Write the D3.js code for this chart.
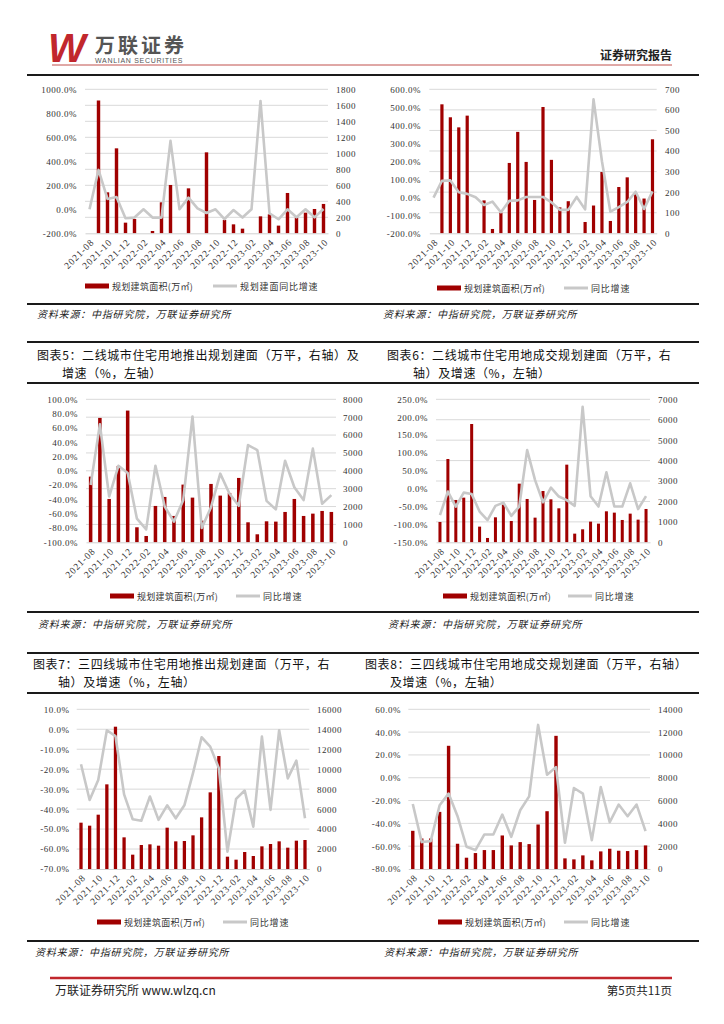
<!DOCTYPE html>
<html>
<head>
<meta charset="utf-8">
<script src="https://cdn.jsdelivr.net/npm/d3@7"></script>
<style>
  body { margin: 0; background: #fff; }
  svg { display: block; }
</style>
</head>
<body>
<svg id="page" width="724" height="1024"></svg>
<script>
// months shown on every chart
const months = ['2021-08','2021-09','2021-10','2021-11','2021-12','2022-01','2022-02','2022-03','2022-04',
  '2022-05','2022-06','2022-07','2022-08','2022-09','2022-10','2022-11','2022-12','2023-01','2023-02',
  '2023-03','2023-04','2023-05','2023-06','2023-07','2023-08','2023-09','2023-10']

// chart 1 (top left): planned floor area (万㎡) and yoy (%)
const area1 = [0, 1660, 512, 1062, 133, 179, 0, 29, 387, 604, 0, 562, 0, 1012, 0, 167, 112, 58, 0, 212, 237, 96, 504, 196, 258, 304, 367]
const yoy1 = [0, 328, 86, 103, -75, -69, 0, -69, -69, 570, 0, 97, 8, -31, 0, -81, -6, -69, 0, 903, -33, -83, 0, -67, 0, -67, 2]

// chart 2 (top right)
const area2 = [0, 627, 564, 515, 572, 0, 160, 21, 100, 342, 493, 347, 162, 614, 357, 126, 156, 0, 55, 135, 298, 60, 225, 272, 190, 169, 457]
const yoy2 = [-2, 91, 94, 28, 19, 0, -43, -24, -83, -20, -17, 2, 2, 2, -28, -70, -70, 2, -67, 544, 200, -80, -54, -26, 31, -65, 33]

// chart 3: 图表5
const area3 = [3675, 6959, 2425, 4272, 7369, 840, 354, 2034, 2537, 1474, 3228, 2500, 1213, 3265, 2612, 2761, 3601, 1119, 448, 1175, 1157, 1698, 2425, 1474, 1604, 1754, 1698]
const yoy3 = [-19.8, 65, -36, 7, -3, -67, -82, 7, -50, -71, -41, 76, -80, -51, -4, -32, -49, 36, 29, -42, -54, 14, -23, -41, 31, -46, -34]

// chart 4: 图表6
const area4 = [995, 4078, 2072, 2186, 5791, 767, 212, 1223, 1843, 1044, 2871, 2121, 1207, 2512, 2104, 1664, 3801, 424, 636, 1011, 913, 1517, 1452, 1093, 1403, 1109, 1631]
const yoy4 = [-74, -8, -50, -11, -15, -64, -88, -48, -39, -76, -50, 108, 24, -38, 3, -22, -32, -48, 229, -21, -50, 46, -50, -50, 15, -57, -21]

// chart 5: 图表7
const area5 = [4641, 4341, 5442, 8481, 14257, 3172, 1436, 2404, 2471, 2337, 4140, 2771, 2805, 3372, 5175, 7679, 11319, 1235, 935, 1703, 1302, 2270, 2504, 2771, 2137, 2838, 2905]
const yoy5 = [-17.5, -35.4, -25.4, -0.5, -3.4, -32.6, -45.1, -45.8, -33.7, -45.4, -38.1, -44.6, -38.1, -22.0, -4.0, -8.7, -19.5, -61.3, -34.9, -30.7, -48.8, -3.7, -40.4, -0.5, -24.6, -15.7, -44.6]

// chart 6: 图表8
const area6 = [3348, 2678, 2678, 5007, 10801, 2213, 990, 1397, 1659, 1659, 2940, 2067, 2358, 2183, 3901, 5066, 11674, 932, 844, 1194, 757, 1543, 1776, 1601, 1572, 1659, 2067]
const yoy6 = [-23, -56.4, -55.6, -24.1, -13.9, -33.7, -60.5, -63.4, -49.7, -49.7, -32.3, -51.8, -28.5, -16.3, 46.3, 2.6, 9.3, -57, -9, -13.9, -54.7, -8.1, -39, -23.5, -33.7, -23.5, -46.8]

// axis ranges [min, max, step]
const leftAxes = [[-200, 1000, 200], [-200, 600, 100], [-100, 100, 20], [-150, 250, 50], [-70, 10, 10], [-80, 60, 20]]
const rightAxes = [[0, 1800, 200], [0, 700, 100], [0, 8000, 1000], [0, 7000, 1000], [0, 16000, 2000], [0, 14000, 2000]]

const barLabel = '规划建筑面积(万㎡)'
const lineLabels = ['规划建面同比增速', '同比增速', '同比增速', '同比增速', '同比增速', '同比增速']
const sourceText = '资料来源：中指研究院，万联证券研究所'

const titles = [
  null, null,
  ['图表5：二线城市住宅用地推出规划建面（万平，右轴）及', '增速（%，左轴）'],
  ['图表6：二线城市住宅用地成交规划建面（万平，右', '轴）及增速（%，左轴）'],
  ['图表7：三四线城市住宅用地推出规划建面（万平，右', '轴）及增速（%，左轴）'],
  ['图表8：三四线城市住宅用地成交规划建面（万平，右轴）', '及增速（%，左轴）']
]

const CJK = '"Noto Sans CJK SC", sans-serif'
const SERIF = '"Liberation Serif", "DejaVu Serif", serif'
const RED = '#a00000'
const GREY = '#c8c8c8'

const svg = d3.select('#page')
svg.append('rect').attr('width', 724).attr('height', 1024).attr('fill', '#fff')

// ---- header ----
svg.append('text').text('W')
  .attr('x', 48).attr('y', 62)
  .attr('font-family', '"Liberation Sans", Arial, sans-serif')
  .attr('font-weight', 'bold').attr('font-style', 'italic')
  .attr('font-size', 40).attr('fill', '#c1272d')
svg.append('text').text('万联证券')
  .attr('x', 95).attr('y', 53)
  .attr('font-family', CJK).attr('font-weight', 'bold')
  .attr('font-size', 20).attr('letter-spacing', 3)
  .attr('fill', '#555')
svg.append('text').text('WANLIAN SECURITIES')
  .attr('x', 95).attr('y', 63)
  .attr('font-family', '"Liberation Sans", Arial, sans-serif')
  .attr('font-size', 7).attr('letter-spacing', 0.7)
  .attr('fill', '#555')
svg.append('text').text('证券研究报告')
  .attr('x', 672).attr('y', 60)
  .attr('text-anchor', 'end')
  .attr('font-family', CJK).attr('font-weight', 'bold')
  .attr('font-size', 12).attr('fill', '#222')
svg.append('line')
  .attr('x1', 52).attr('x2', 672).attr('y1', 65).attr('y2', 65)
  .attr('stroke', '#c0504d').attr('stroke-width', 1)

// ---- footer ----
svg.append('line')
  .attr('x1', 50).attr('x2', 672).attr('y1', 978).attr('y2', 978)
  .attr('stroke', '#c1272d').attr('stroke-width', 2.5)
svg.append('text').text('万联证券研究所 www.wlzq.cn')
  .attr('x', 55).attr('y', 995)
  .attr('font-family', CJK).attr('font-size', 12).attr('fill', '#222')
svg.append('text').text('第5页共11页')
  .attr('x', 672).attr('y', 995).attr('text-anchor', 'end')
  .attr('font-family', CJK).attr('font-size', 11.5).attr('fill', '#222')

// ---- table rules ----
const rules = [[75, 2], [304, 2], [342, 2], [383, 2.2], [612, 2], [653, 2], [693, 2.2], [941, 2.2]]
rules.forEach(r => {
  svg.append('line')
    .attr('x1', 27).attr('x2', 699).attr('y1', r[0]).attr('y2', r[0])
    .attr('stroke', '#1a1a1a').attr('stroke-width', r[1])
})

// layout of each chart block
const layout = [
  {x0: 85, x1: 328, y0: 89.3, y1: 233.3, lx: 77, rx: 336, legY: 286, leg1: 85, leg2: 213, src: [37, 318]},
  {x0: 429.3, x1: 656.7, y0: 89.3, y1: 233.3, lx: 421, rx: 665, legY: 288, leg1: 437, leg2: 564, src: [383, 318]},
  {x0: 86, x1: 336, y0: 399.3, y1: 542.3, lx: 78, rx: 343, legY: 596, leg1: 110, leg2: 236, src: [38, 628],
   t1: [37, 359.5], t2: [62, 377.5]},
  {x0: 436, x1: 650, y0: 399.3, y1: 542.3, lx: 428, rx: 658, legY: 596, leg1: 443, leg2: 568, src: [388, 628],
   t1: [387, 359.5], t2: [413, 377.5]},
  {x0: 76.7, x1: 309.3, y0: 709.3, y1: 869, lx: 69.5, rx: 317, legY: 922, leg1: 97, leg2: 223, src: [35, 956],
   t1: [33, 668.5], t2: [58, 686.5]},
  {x0: 408.3, x1: 650, y0: 709.3, y1: 869, lx: 401, rx: 658, legY: 922, leg1: 438, leg2: 564, src: [384, 956],
   t1: [365, 668.5], t2: [390, 686.5]}
]

const barsAll = [area1, area2, area3, area4, area5, area6]
const linesAll = [yoy1, yoy2, yoy3, yoy4, yoy5, yoy6]

function styleTicks (sel) {
  sel.select('.domain').remove()
  sel.selectAll('text')
    .attr('font-family', SERIF)
    .attr('font-size', 9)
    .attr('letter-spacing', 0.5)
    .attr('fill', '#333')
}

function drawChart (k) {
  const c = layout[k]
  const la = leftAxes[k], ra = rightAxes[k]
  const g = svg.append('g')

  const x = d3.scaleBand().domain(months).range([c.x0, c.x1])
  const yL = d3.scaleLinear().domain([la[0], la[1]]).range([c.y1, c.y0])
  const yR = d3.scaleLinear().domain([ra[0], ra[1]]).range([c.y1, c.y0])
  const lTicks = d3.range(la[0], la[1] + la[2] / 2, la[2])
  const rTicks = d3.range(ra[0], ra[1] + ra[2] / 2, ra[2])

  // gridlines follow the right axis
  g.selectAll('line.grid')
    .data(rTicks.slice(1))
    .enter()
    .append('line')
    .attr('class', 'grid')
    .attr('x1', c.x0).attr('x2', c.x1)
    .attr('y1', d => yR(d)).attr('y2', d => yR(d))
    .attr('stroke', '#d9d9d9').attr('stroke-width', 1)

  // bars
  g.selectAll('rect.bar')
    .data(barsAll[k])
    .enter()
    .append('rect')
    .attr('class', 'bar')
    .attr('x', (d, i) => x(months[i]) + x.bandwidth() * 0.31)
    .attr('width', x.bandwidth() * 0.38)
    .attr('y', d => yR(d))
    .attr('height', d => yR(0) - yR(d))
    .attr('fill', RED)

  // category axis
  const xAxis = g.append('g')
    .attr('transform', `translate(0,${c.y1})`)
    .call(d3.axisBottom(x).tickValues(months.filter((d, i) => i % 2 === 0)).tickSize(0).tickSizeOuter(0))
  xAxis.select('.domain').attr('stroke', '#d0d0d0')
  xAxis.selectAll('text')
    .attr('font-family', SERIF)
    .attr('font-size', 9.5)
    .attr('letter-spacing', 0.9)
    .attr('fill', '#333')
    .attr('text-anchor', 'end')
    .attr('y', 0).attr('dy', '0.35em')
    .attr('transform', 'translate(3,7) rotate(-45)')

  // yoy line
  const line = d3.line()
    .x((d, i) => x(months[i]) + x.bandwidth() / 2)
    .y(d => yL(d))
  g.append('path')
    .datum(linesAll[k])
    .attr('d', line)
    .attr('fill', 'none')
    .attr('stroke', GREY)
    .attr('stroke-width', 2.6)
    .attr('stroke-linejoin', 'round')

  // left and right axis labels
  g.append('g')
    .attr('transform', `translate(${c.lx},0)`)
    .call(d3.axisLeft(yL).tickValues(lTicks).tickSize(0).tickPadding(0).tickFormat(d => d.toFixed(1) + '%'))
    .call(styleTicks)
  g.append('g')
    .attr('transform', `translate(${c.rx},0)`)
    .call(d3.axisRight(yR).tickValues(rTicks).tickSize(0).tickPadding(0).tickFormat(d => String(d)))
    .call(styleTicks)

  // legend
  g.append('rect')
    .attr('x', c.leg1).attr('y', c.legY - 2.5)
    .attr('width', 24).attr('height', 5)
    .attr('fill', RED)
  g.append('text').text(barLabel)
    .attr('x', c.leg1 + 27).attr('y', c.legY)
    .attr('dominant-baseline', 'central')
    .attr('font-family', CJK).attr('font-size', 9).attr('letter-spacing', 0.3)
    .attr('fill', '#333')
  g.append('line')
    .attr('x1', c.leg2).attr('x2', c.leg2 + 24)
    .attr('y1', c.legY).attr('y2', c.legY)
    .attr('stroke', GREY).attr('stroke-width', 3)
  g.append('text').text(lineLabels[k])
    .attr('x', c.leg2 + 27).attr('y', c.legY)
    .attr('dominant-baseline', 'central')
    .attr('font-family', CJK).attr('font-size', 9).attr('letter-spacing', 0.8)
    .attr('fill', '#333')

  // source
  g.append('text').text(sourceText)
    .attr('x', c.src[0]).attr('y', c.src[1])
    .attr('font-family', CJK).attr('font-size', 10)
    .attr('font-style', 'italic').attr('letter-spacing', 0.8)
    .attr('fill', '#222')

  // title
  if (titles[k]) {
    g.append('text').text(titles[k][0])
      .attr('x', c.t1[0]).attr('y', c.t1[1])
      .attr('font-family', CJK).attr('font-size', 12).attr('letter-spacing', 0.6)
      .attr('fill', '#111')
    g.append('text').text(titles[k][1])
      .attr('x', c.t2[0]).attr('y', c.t2[1])
      .attr('font-family', CJK).attr('font-size', 12).attr('letter-spacing', 0.6)
      .attr('fill', '#111')
  }
}

for (let k = 0; k < 6; k++) drawChart(k)
</script>
</body>
</html>
